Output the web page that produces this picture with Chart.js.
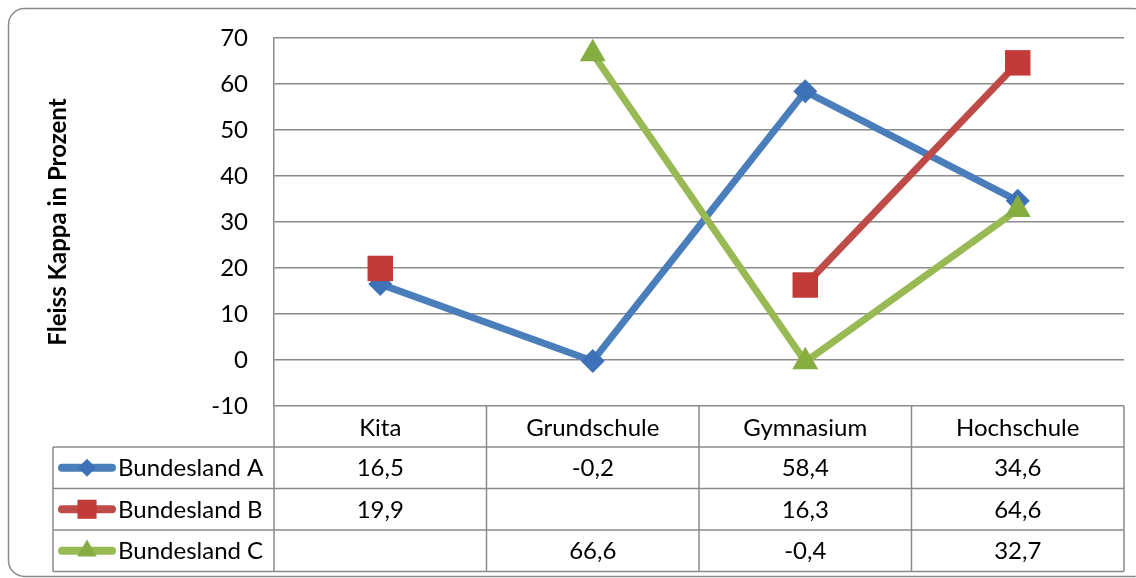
<!DOCTYPE html>
<html>
<head>
<meta charset="utf-8">
<script src="https://cdn.jsdelivr.net/npm/chart.js@4"></script>
<style>
  html, body { margin: 0; padding: 0; background: #fff; overflow: hidden; }
  #wrap { position: absolute; left: 0; top: 0; width: 1136px; height: 578px; }
</style>
</head>
<body>
<div id="wrap"><canvas id="kappaChart" width="1136" height="578"></canvas></div>
<script>
// Kategorien und Werte (Fleiss Kappa in Prozent)
const categories = ['Kita', 'Grundschule', 'Gymnasium', 'Hochschule'];
const seriesNames = ['Bundesland A', 'Bundesland B', 'Bundesland C'];
const bundeslandA = [16.5, -0.2, 58.4, 34.6];
const bundeslandB = [19.9, null, 16.3, 64.6];
const bundeslandC = [null, 66.6, -0.4, 32.7];
const yTicks = [-10, 0, 10, 20, 30, 40, 50, 60, 70];

const gridColor = '#8a8a8a';
const fontFamily = 'Lato, "Open Sans", sans-serif';
const fontSize = 24;

const lineColors = ['#4a7ebb', '#be4b48', '#98b954'];
const markerColors = ['#3d72b8', '#c23b38', '#86ad3f'];
const markerStyles = ['rectRot', 'rect', 'triangle'];
const markerRadius = [12, 18, 15];

function fmt(v) {
    if (v === null) return '';
    return v.toLocaleString('de-DE', { minimumFractionDigits: 1, maximumFractionDigits: 1 });
}

function drawMarker(ctx, style, x, y, r, color) {
    ctx.save();
    ctx.fillStyle = color;
    ctx.beginPath();
    if (style === 'rectRot') {
        ctx.moveTo(x, y - r); ctx.lineTo(x + r, y); ctx.lineTo(x, y + r); ctx.lineTo(x - r, y);
    } else if (style === 'rect') {
        const s = r * Math.SQRT1_2;
        ctx.rect(x - s, y - s, 2 * s, 2 * s);
    } else {
        const h = r * 1.5, w = r * Math.sqrt(3);
        ctx.moveTo(x, y - r); ctx.lineTo(x + w / 2, y + h - r); ctx.lineTo(x - w / 2, y + h - r);
    }
    ctx.closePath();
    ctx.fill();
    ctx.restore();
}

// Rahmen und Datentabelle unter dem Diagramm
const tablePlugin = {
    id: 'dataTable',
    beforeDraw(chart) {
        const ctx = chart.ctx;
        ctx.save();
        ctx.strokeStyle = gridColor;
        ctx.lineWidth = 1.5;
        ctx.beginPath();
        ctx.roundRect(8.5, 8.5, 1140, 568, 16);
        ctx.stroke();
        ctx.restore();
    },
    afterDraw(chart) {
        const ctx = chart.ctx;
        const area = chart.chartArea;
        const colW = (area.right - area.left) / categories.length;
        const headTop = area.bottom;
        const rowTop = 447;
        const rowH = 41.5;
        const tableLeft = 53;
        const tableBottom = rowTop + rowH * seriesNames.length;
        const allData = [bundeslandA, bundeslandB, bundeslandC];

        ctx.save();
        ctx.strokeStyle = gridColor;
        ctx.lineWidth = 1.5;
        ctx.beginPath();
        // Spaltenlinien
        for (let i = 0; i <= categories.length; i++) {
            const x = area.left + i * colW;
            ctx.moveTo(x, headTop);
            ctx.lineTo(x, tableBottom);
        }
        ctx.moveTo(tableLeft, rowTop);
        ctx.lineTo(tableLeft, tableBottom);
        // Zeilenlinien
        for (let r = 0; r <= seriesNames.length; r++) {
            const y = rowTop + r * rowH;
            ctx.moveTo(tableLeft, y);
            ctx.lineTo(area.right, y);
        }
        ctx.stroke();

        ctx.font = fontSize + 'px ' + fontFamily;
        ctx.fillStyle = '#000';
        ctx.textBaseline = 'middle';
        seriesNames.forEach((name, r) => {
            const cy = rowTop + r * rowH + rowH / 2;
            // Legendensymbol
            ctx.save();
            ctx.strokeStyle = lineColors[r];
            ctx.lineWidth = 8;
            ctx.lineCap = 'round';
            ctx.beginPath();
            ctx.moveTo(62, cy);
            ctx.lineTo(112, cy);
            ctx.stroke();
            ctx.restore();
            drawMarker(ctx, markerStyles[r], 87, cy, markerRadius[r] * 0.75, markerColors[r]);

            ctx.textAlign = 'left';
            ctx.fillText(name, 118, cy + 1);
            ctx.textAlign = 'center';
            allData[r].forEach((v, i) => {
                ctx.fillText(fmt(v), area.left + (i + 0.5) * colW, cy + 1);
            });
        });
        ctx.restore();
    }
};

const datasets = [bundeslandA, bundeslandB, bundeslandC].map((data, i) => ({
    label: seriesNames[i],
    data: data,
    borderColor: lineColors[i],
    backgroundColor: markerColors[i],
    borderWidth: 7,
    borderJoinStyle: 'round',
    pointStyle: markerStyles[i],
    pointRadius: markerRadius[i],
    pointHoverRadius: markerRadius[i],
    pointBorderWidth: 0,
    pointBackgroundColor: markerColors[i],
    spanGaps: false,
    order: 3 - i
}));

new Chart(document.getElementById('kappaChart').getContext('2d'), {
    type: 'line',
    data: { labels: categories, datasets: datasets },
    plugins: [tablePlugin],
    options: {
        responsive: false,
        animation: false,
        devicePixelRatio: 1,
        layout: { autoPadding: false, padding: { left: 0, top: 38, right: 12, bottom: 0 } },
        plugins: { legend: { display: false }, tooltip: { enabled: false } },
        scales: {
            x: {
                offset: true,
                grid: { display: false, drawTicks: false, offset: true },
                border: { display: false },
                ticks: { color: '#000', font: { family: fontFamily, size: fontSize }, padding: 8 },
                afterFit(scale) {
                    scale.height = 172;
                    scale.paddingLeft = 0;
                    scale.paddingRight = 0;
                }
            },
            y: {
                min: -10,
                max: 70,
                afterBuildTicks(scale) { scale.ticks = yTicks.map(v => ({ value: v })); },
                grid: { color: gridColor, lineWidth: 1.5, drawTicks: false, tickLength: 0 },
                border: { color: gridColor, width: 1.5 },
                ticks: { color: '#000', font: { family: fontFamily, size: fontSize }, padding: 26 },
                title: {
                    display: true,
                    text: 'Fleiss Kappa in Prozent',
                    color: '#000',
                    font: { family: fontFamily, size: 24, weight: 'bold' },
                    padding: { top: 44, bottom: 0 }
                },
                afterFit(scale) {
                    scale.width = 274;
                    scale.paddingTop = 0;
                    scale.paddingBottom = 0;
                }
            }
        }
    }
});
</script>
</body>
</html>
